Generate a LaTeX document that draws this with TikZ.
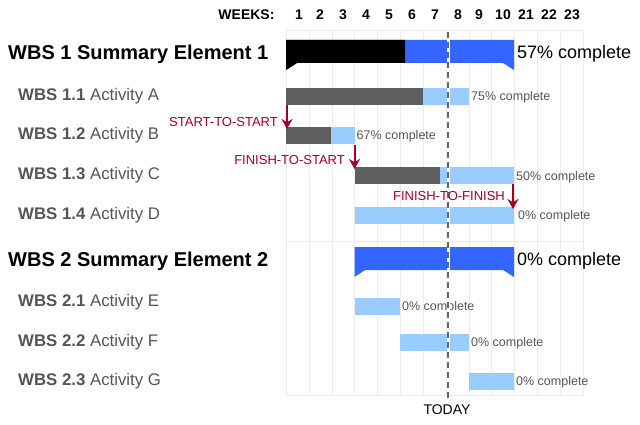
\documentclass[tikz,border=0pt]{standalone}
\usepackage{fontspec}
\setmainfont{Liberation Sans}
\usetikzlibrary{positioning,arrows.meta}
\definecolor{done}{HTML}{5F5F5F}
\definecolor{todo}{HTML}{99CCFF}
\definecolor{summ}{HTML}{3366FF}
\definecolor{link}{HTML}{A00025}
\definecolor{lbl}{HTML}{555555}
\begin{document}
\begin{tikzpicture}[x=1pt,y=-1pt,
    wbs/.style={anchor=west,font=\fontsize{16.8}{18}\selectfont,text=lbl,inner sep=0pt},
    sumlbl/.style={anchor=west,font=\fontsize{20}{22}\selectfont\bfseries,inner sep=0pt},
    pct/.style={anchor=west,font=\fontsize{12.5}{14}\selectfont,text=lbl,inner sep=2pt},
    sumpct/.style={anchor=west,font=\fontsize{18}{20}\selectfont,inner sep=3pt},
    rel/.style={anchor=east,font=\fontsize{13}{15}\selectfont,text=link,inner sep=1pt},
    relarrow/.style={draw=link,line width=2pt,-{Stealth[length=10pt,width=11pt]}}]
  \useasboundingbox (0,0) rectangle (640,425);

  % Grid and week numbers
  \foreach \x in {286,309,332,354.5,377,400,423,446,469,491,514,537,560,583}
    \draw[gray!15] (\x,30) -- (\x,395);
  \draw[gray!15] (286,30) -- (583,30) (286,241) -- (583,241) (286,395) -- (583,395);
  \foreach \w/\x in {1/299,2/320,3/343,4/366,5/389,6/412,7/435,8/458,9/479,10/503,21/526,22/549,23/572}
    \node[font=\fontsize{14}{16}\selectfont\bfseries] at (\x,15) {\w};
  \node[font=\fontsize{14}{16}\selectfont\bfseries,anchor=east] (weeks) at (278,15) {WEEKS:};

  % Row labels
  \node[sumlbl] (s1) at (8,54) {WBS 1 Summary Element 1};
  \node[wbs] (a) at (18,96) {\textbf{WBS 1.1} Activity A};
  \node[wbs] (b) at (18,135) {\textbf{WBS 1.2} Activity B};
  \node[wbs] (c) at (18,175) {\textbf{WBS 1.3} Activity C};
  \node[wbs] (d) at (18,215) {\textbf{WBS 1.4} Activity D};
  \node[sumlbl] (s2) at (8,261) {WBS 2 Summary Element 2};
  \node[wbs] (e) at (18,302) {\textbf{WBS 2.1} Activity E};
  \node[wbs] (f) at (18,342) {\textbf{WBS 2.2} Activity F};
  \node[wbs] (g) at (18,381) {\textbf{WBS 2.3} Activity G};

  % Summary bars
  \fill[summ] (286,40) -- (514,40) -- (514,70) -- (503,63) -- (297,63) -- (286,70) -- cycle;
  \fill[black] (286,40) -- (405,40) -- (405,63) -- (297,63) -- (286,70) -- cycle;
  \fill[summ] (354.5,247) -- (514,247) -- (514,277) -- (503,270) -- (365,270) -- (354.5,277) -- cycle;
  \node[sumpct] (p1) at (514,54) {57\% complete};
  \node[sumpct] (p2) at (514,261) {0\% complete};

  % Activity bars
  \fill[todo] (286,88) rectangle (469,105);  \fill[done] (286,88) rectangle (423,105);
  \fill[todo] (286,127) rectangle (354.5,144); \fill[done] (286,127) rectangle (331,144);
  \fill[todo] (354.5,167) rectangle (514,184); \fill[done] (354.5,167) rectangle (440,184);
  \fill[todo] (354.5,207) rectangle (514,224);
  \fill[todo] (354.5,298) rectangle (400,315);
  \fill[todo] (400,334) rectangle (469,351);
  \fill[todo] (469,373) rectangle (514,390);
  \node[pct] (pa) at (469,97) {75\% complete};
  \node[pct] (pb) at (354.5,136) {67\% complete};
  \node[pct] (pc) at (514,177) {50\% complete};
  \node[pct] (pd) at (516,216) {0\% complete};
  \node[pct] (pe) at (400,307) {0\% complete};
  \node[pct] (pf) at (469,343) {0\% complete};
  \node[pct] (pg) at (514,382) {0\% complete};

  % Today line
  \draw[white,line width=3pt] (448,32) -- (448,398);
  \draw[gray!80!black,line width=1.5pt,dash pattern=on 6pt off 4pt] (448,32) -- (448,398);
  \node[font=\fontsize{14}{16}\selectfont] (today) at (447,410) {TODAY};

  % Dependencies
  \coordinate (ss) at (287,105);  \coordinate (ss') at (287,129);
  \coordinate (fs) at (354.5,145); \coordinate (fs') at (354.5,169);
  \coordinate (ff) at (513,184);  \coordinate (ff') at (513,209);
  \draw[relarrow] (ss) -- (ss');
  \draw[relarrow] (fs) -- (fs');
  \draw[relarrow] (ff) -- (ff');
  \node[rel] (ssl) at (279,122) {START-TO-START};
  \node[rel] (fsl) at (346,160) {FINISH-TO-START};
  \node[rel] (ffl) at (506,196) {FINISH-TO-FINISH};
\end{tikzpicture}
\end{document}
